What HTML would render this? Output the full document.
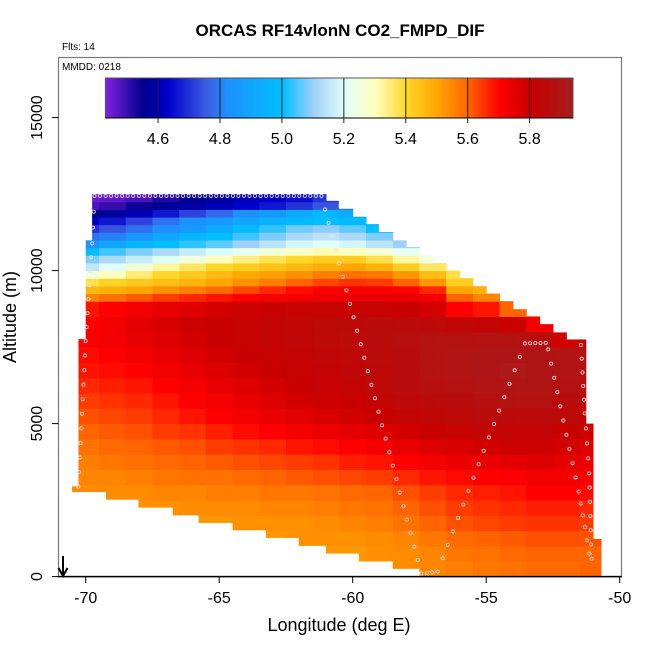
<!DOCTYPE html>
<html><head><meta charset="utf-8"><style>
body{margin:0;background:#fff}
svg text{font-family:"Liberation Sans",sans-serif}
</style></head><body>
<svg id="c" width="650" height="650" xmlns="http://www.w3.org/2000/svg">
<text x="340" y="36" text-anchor="middle" font-size="17" font-weight="bold">ORCAS RF14vlonN CO2_FMPD_DIF</text>
<text x="62" y="50" font-size="10">Flts: 14</text>
<g id="cells"></g>
<g id="track"></g>
<rect x="58.5" y="57.5" width="563" height="519" fill="none" stroke="#777" stroke-width="1.2"/>
<line x1="58" y1="576.6" x2="622" y2="576.6" stroke="#000" stroke-width="1.5"/>
<text x="62" y="70" font-size="10">MMDD: 0218</text>
<g id="cbar"></g>
<g id="axes"></g>
<line x1="63" y1="556" x2="63" y2="575" stroke="#000" stroke-width="2"/>
<path d="M58.5,568 L63,576 L67.5,568" fill="none" stroke="#000" stroke-width="2"/>
<text x="339" y="631" text-anchor="middle" font-size="18">Longitude (deg E)</text>
<text transform="translate(16,317) rotate(-90)" text-anchor="middle" font-size="18">Altitude (m)</text>
</svg>
<script>
const xTicks=[-70,-65,-60,-55,-50];
const yTicks=[0,5000,10000,15000];
const cbTicks=[4.6,4.8,5.0,5.2,5.4,5.6,5.8];
const cbMin=4.43, cbMax=5.94;
// column geometry
const colLonL=[-70.51,-70.27,-70.0,-69.76,-69.24,-68.02,-66.74,-65.77,-64.5,-63.25,-62.02,-61.0,-60.54,-60.0,-59.77,-59.5,-59.04,-58.5,-58.0,-57.5,-57,-56.5,-56,-55.5,-55,-54.5,-54,-53.5,-53,-52.5,-52,-51.27,-51.0];
const colLonR=[-70.27,-70.0,-69.76,-69.24,-68.02,-66.74,-65.77,-64.5,-63.25,-62.02,-61.0,-60.54,-60.0,-59.77,-59.5,-59.04,-58.5,-58.0,-57.5,-57,-56.5,-56,-55.5,-55,-54.5,-54,-53.5,-53,-52.5,-52,-51.27,-51.0,-50.7];
const colTop=[2950,7760,10990,12500,12500,12500,12500,12500,12500,12500,12500,12280,12020,11760,11760,11520,11260,10990,10770,10500,10250,10000,9760,9490,9250,9000,8740,8510,8250,7980,7750,5000,1230];
const colBot=[2780,2780,2780,2780,2530,2270,2020,1770,1530,1280,1020,770,770,770,510,510,510,270,270,0,0,0,0,0,0,0,0,0,0,0,0,0,0];
// value grid rows (altitude bands) and cols (1 deg bands from -70.5)
const rowLo=[0,500,1000,1500,2000,2500,3000,3500,4000,4500,5000,5500,6000,6500,7000,7500,8000,8500,9000,9250,9500,9750,10000,10250,10500,10750,11000,11250,11500,11750,12000,12250];
const rowHi=[500,1000,1500,2000,2500,3000,3500,4000,4500,5000,5500,6000,6500,7000,7500,8000,8500,9000,9250,9500,9750,10000,10250,10500,10750,11000,11250,11500,11750,12000,12250,12500];
const V=[
[5.52,5.52,5.52,5.52,5.52,5.52,5.52,5.52,5.52,5.52,5.52,5.53,5.54,5.55,5.56,5.57,5.58,5.59,5.59,5.6],
[5.52,5.52,5.52,5.52,5.52,5.52,5.52,5.52,5.52,5.52,5.52,5.53,5.54,5.55,5.57,5.58,5.59,5.6,5.6,5.6],
[5.52,5.52,5.52,5.52,5.52,5.52,5.52,5.52,5.53,5.53,5.53,5.54,5.55,5.57,5.59,5.6,5.61,5.62,5.62,5.62],
[5.52,5.52,5.52,5.52,5.52,5.52,5.53,5.53,5.53,5.54,5.55,5.56,5.58,5.6,5.62,5.63,5.64,5.65,5.65,5.64],
[5.53,5.53,5.53,5.53,5.54,5.54,5.54,5.55,5.55,5.56,5.57,5.58,5.6,5.62,5.64,5.65,5.66,5.67,5.67,5.66],
[5.54,5.54,5.54,5.55,5.55,5.56,5.56,5.57,5.57,5.58,5.59,5.6,5.62,5.64,5.66,5.67,5.68,5.7,5.7,5.69],
[5.55,5.55,5.56,5.57,5.58,5.58,5.59,5.6,5.61,5.62,5.63,5.64,5.66,5.68,5.69,5.7,5.71,5.72,5.72,5.71],
[5.56,5.57,5.58,5.59,5.6,5.61,5.62,5.63,5.64,5.65,5.67,5.68,5.7,5.72,5.73,5.74,5.75,5.76,5.75,5.74],
[5.58,5.59,5.6,5.61,5.62,5.64,5.65,5.66,5.68,5.69,5.7,5.72,5.74,5.76,5.77,5.78,5.79,5.79,5.78,5.76],
[5.6,5.61,5.62,5.64,5.65,5.67,5.69,5.7,5.72,5.73,5.75,5.76,5.78,5.8,5.81,5.82,5.82,5.82,5.8,5.79],
[5.62,5.63,5.64,5.66,5.68,5.7,5.72,5.74,5.75,5.77,5.78,5.8,5.82,5.83,5.84,5.85,5.85,5.85,5.84,5.82],
[5.64,5.65,5.66,5.68,5.7,5.72,5.74,5.76,5.78,5.79,5.8,5.82,5.84,5.85,5.86,5.87,5.88,5.88,5.86,5.85],
[5.66,5.67,5.68,5.7,5.72,5.74,5.76,5.78,5.8,5.81,5.82,5.84,5.86,5.87,5.88,5.89,5.9,5.9,5.88,5.87],
[5.68,5.69,5.7,5.72,5.74,5.76,5.78,5.8,5.81,5.82,5.83,5.84,5.86,5.88,5.89,5.9,5.91,5.9,5.89,5.88],
[5.69,5.7,5.72,5.74,5.76,5.78,5.8,5.81,5.82,5.83,5.84,5.85,5.86,5.88,5.89,5.9,5.9,5.9,5.89,5.88],
[5.7,5.72,5.74,5.76,5.78,5.8,5.81,5.82,5.83,5.84,5.85,5.86,5.87,5.88,5.88,5.88,5.88,5.86,5.78,5.8],
[5.7,5.72,5.75,5.77,5.79,5.8,5.81,5.82,5.83,5.84,5.84,5.85,5.85,5.84,5.83,5.82,5.8,5.72,5.72,5.7],
[5.68,5.7,5.72,5.74,5.76,5.78,5.79,5.8,5.81,5.81,5.81,5.81,5.8,5.78,5.7,5.68,5.6,5.6,5.6,5.6],
[5.55,5.58,5.61,5.64,5.66,5.68,5.7,5.71,5.72,5.73,5.74,5.74,5.74,5.72,5.6,5.55,5.55,5.55,5.55,5.55],
[5.46,5.48,5.5,5.53,5.56,5.59,5.63,5.66,5.69,5.7,5.71,5.71,5.7,5.66,5.5,5.48,5.48,5.48,5.48,5.48],
[5.38,5.41,5.43,5.45,5.47,5.5,5.53,5.56,5.6,5.63,5.65,5.64,5.6,5.52,5.42,5.42,5.42,5.42,5.42,5.42],
[5.25,5.3,5.35,5.4,5.43,5.46,5.49,5.51,5.53,5.56,5.58,5.57,5.52,5.45,5.38,5.38,5.38,5.38,5.38,5.38],
[5.15,5.2,5.26,5.32,5.36,5.4,5.42,5.44,5.46,5.48,5.5,5.47,5.42,5.36,5.32,5.32,5.32,5.32,5.32,5.32],
[5.08,5.12,5.16,5.2,5.25,5.3,5.34,5.37,5.4,5.42,5.42,5.38,5.32,5.25,5.25,5.25,5.25,5.25,5.25,5.25],
[5.0,5.04,5.08,5.12,5.16,5.19,5.22,5.26,5.29,5.31,5.3,5.27,5.22,5.18,5.18,5.18,5.18,5.18,5.18,5.18],
[4.84,4.9,4.96,5.0,5.03,5.06,5.1,5.14,5.18,5.2,5.18,5.14,5.1,5.08,5.08,5.08,5.08,5.08,5.08,5.08],
[4.78,4.8,4.84,4.9,4.96,5.0,5.04,5.08,5.12,5.14,5.12,5.08,5.04,5.04,5.04,5.04,5.04,5.04,5.04,5.04],
[4.7,4.74,4.78,4.82,4.86,4.92,4.98,5.03,5.07,5.09,5.06,5.0,4.98,4.98,4.98,4.98,4.98,4.98,4.98,4.98],
[4.62,4.66,4.72,4.78,4.82,4.86,4.9,4.95,4.98,5.0,4.98,4.95,4.95,4.95,4.95,4.95,4.95,4.95,4.95,4.95],
[4.55,4.57,4.6,4.66,4.72,4.77,4.82,4.86,4.92,4.97,4.92,4.88,4.88,4.88,4.88,4.88,4.88,4.88,4.88,4.88],
[4.48,4.5,4.54,4.56,4.58,4.6,4.63,4.66,4.7,4.74,4.78,4.78,4.78,4.78,4.78,4.78,4.78,4.78,4.78,4.78],
[4.45,4.46,4.48,4.52,4.55,4.57,4.6,4.62,4.65,4.7,4.72,4.72,4.72,4.72,4.72,4.72,4.72,4.72,4.72,4.72]
];
// flight track waypoints
const trk1Lon=[-70.27,-70.0,-69.76,-69.67,-61.17,-57.43,-56.82,-53.55,-52.77,-52.68,-51.54,-51.3,-51.05];
const trk1Alt=[2940,7700,10890,12440,12440,100,160,7620,7640,7425,2775,1620,320];
const trk2Lon=[-51.45,-51.31,-51.14,-51.04];
const trk2Alt=[7570,5335,3375,120];

const NS="http://www.w3.org/2000/svg";
const px=lon=>85.7+(lon+70)*26.7;
const py=alt=>576.6-alt*0.0306;
const cbx=v=>105.4+(v-cbMin)/(cbMax-cbMin)*467.6;
const stops=[[4.43,[128,32,224]],[4.55,[0,0,140]],[4.63,[0,0,205]],[4.75,[60,90,225]],[4.82,[30,144,255]],[5.0,[0,191,255]],[5.1,[160,208,248]],[5.2,[225,255,250]],[5.3,[255,255,190]],[5.4,[255,215,40]],[5.5,[255,165,0]],[5.6,[255,100,0]],[5.7,[255,0,0]],[5.8,[200,0,0]],[5.94,[165,30,30]]];
function col(v){
  if(v<=stops[0][0])return 'rgb('+stops[0][1]+')';
  for(let i=1;i<stops.length;i++){if(v<=stops[i][0]){const a=stops[i-1],b=stops[i],t=(v-a[0])/(b[0]-a[0]);
    return 'rgb('+a[1].map((c,k)=>Math.round(c+(b[1][k]-c)*t)).join(',')+')';}}
  return 'rgb('+stops[stops.length-1][1]+')';
}
function mk(t,a,p){const e=document.createElementNS(NS,t);for(const k in a)e.setAttribute(k,a[k]);p.appendChild(e);return e;}

const cells=document.getElementById('cells');
for(let i=0;i<colLonL.length;i++){
  for(let r=0;r<V.length;r++){
    const lo=Math.max(colBot[i],rowLo[r]),hi=Math.min(colTop[i],rowHi[r]);
    if(hi<=lo)continue;
    let L=colLonL[i];
    while(L<colLonR[i]-1e-9){
      const c=Math.max(0,Math.min(19,Math.floor(L+70.5+1e-9)));
      const R=Math.min(colLonR[i],-70.5+c+1);
      const rc=mk('rect',{x:px(L),y:py(hi),width:px(R)-px(L)+0.5,height:py(lo)-py(hi)+0.5,fill:col(V[r][c])},cells);
      
      
      L=R>L?R:colLonR[i];
    }
  }
}
const trk=document.getElementById('track');
function drawTrack(lons,alts){
  for(let i=0;i<lons.length-1;i++){
    const x0=px(lons[i]),y0=py(alts[i]),x1=px(lons[i+1]),y1=py(alts[i+1]);
    const len=Math.hypot(x1-x0,y1-y0);
    const sp=Math.abs(y1-y0)<3?5.5:14;
    const n=Math.max(1,Math.round(len/sp));
    for(let k=0;k<n;k++){
      const t=k/n;
      const d=mk('circle',{cx:x0+(x1-x0)*t,cy:y0+(y1-y0)*t,r:1.6,fill:'none',stroke:'#f4e0e0','stroke-width':0.8},trk);
      
      
    }
  }
}
drawTrack(trk1Lon,trk1Alt);
drawTrack(trk2Lon,trk2Alt);

const cb=document.getElementById('cbar');
for(let x=105.4;x<573;x+=2){
  const v=cbMin+(x-105.4)/467.6*(cbMax-cbMin);
  const s=mk('rect',{x:x,y:78,width:Math.min(2.3,573-x),height:40,fill:col(v)},cb);
  
  
}
mk('rect',{x:105.4,y:78,width:467.6,height:40,fill:'none',stroke:'#555','stroke-width':1},cb);
mk('line',{x1:105.4,y1:118,x2:573,y2:118,stroke:'#000','stroke-width':1},cb);
cbTicks.forEach(v=>{
  const x=cbx(v);
  mk('line',{x1:x,y1:78,x2:x,y2:123,stroke:'#222','stroke-width':1},cb);
  const t=mk('text',{x:x,y:144,'text-anchor':'middle','font-size':16},cb);t.textContent=v.toFixed(1);
  
  
});
const ax=document.getElementById('axes');
xTicks.forEach(v=>{
  const x=px(v);
  mk('line',{x1:x,y1:576.6,x2:x,y2:583,stroke:'#000'},ax);
  const t=mk('text',{x:x,y:603,'text-anchor':'middle','font-size':16},ax);t.textContent=v;
  
  
});
yTicks.forEach(v=>{
  const y=py(v);
  mk('line',{x1:52,y1:y,x2:58.5,y2:y,stroke:'#000'},ax);
  const t=mk('text',{transform:'translate(42,'+y+') rotate(-90)','text-anchor':'middle','font-size':16},ax);t.textContent=v;
  
  
});
</script>
</body></html>
